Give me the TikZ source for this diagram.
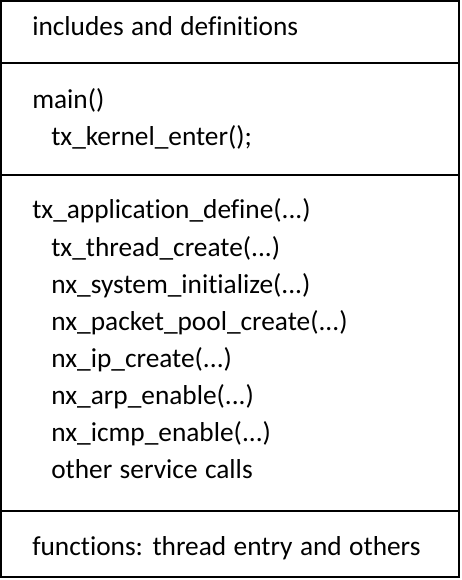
\documentclass[tikz,border=0pt]{standalone}
\usepackage{fontspec}
\setmainfont{Carlito}[Ligatures=NoCommon,WordSpace=1.2]

\begin{document}
\begin{tikzpicture}[x=0.75pt,y=-0.75pt]
 \useasboundingbox (0,0) rectangle (461,580);
 % frame and section dividers
 \coordinate (tl) at (1,1);
 \coordinate (br) at (459,577);
 \draw[line width=1.5pt] (tl) rectangle (br);
 \begin{scope}[line width=1.5pt]
  \coordinate (d1l) at (1,63);
  \coordinate (d1r) at (459,63);
  \coordinate (d2l) at (1,175);
  \coordinate (d2r) at (459,175);
  \coordinate (d3l) at (1,511);
  \coordinate (d3r) at (459,511);
  \draw (d1l) -- (d1r);
  \draw (d2l) -- (d2r);
  \draw (d3l) -- (d3r);
 \end{scope}
 \begin{scope}[every node/.style={anchor=base west, inner sep=0pt,
                                  font=\fontsize{20.5}{24}\selectfont}]
  \node (incl) at (32,36) {includes and definitions};
  \node (main) at (32,109) {main()};
  \node (kenter) at (51,146) {tx\_kernel\_enter();};
  \node (appdef) at (32,219) {tx\_application\_define(...)};
  \node (thread) at (51,256.1) {tx\_thread\_create(...)};
  \node (sysinit) at (51,293.2) {nx\_system\_initialize(...)};
  \node (pool) at (51,330.3) {nx\_packet\_pool\_create(...)};
  \node (ip) at (51,367.4) {nx\_ip\_create(...)};
  \node (arp) at (51,404.5) {nx\_arp\_enable(...)};
  \node (icmp) at (51,441.6) {nx\_icmp\_enable(...)};
  \node (other) at (51,478.7) {other service calls};
  \node (func) at (32,555) {functions: thread entry and others};
 \end{scope}
\end{tikzpicture}
\end{document}
